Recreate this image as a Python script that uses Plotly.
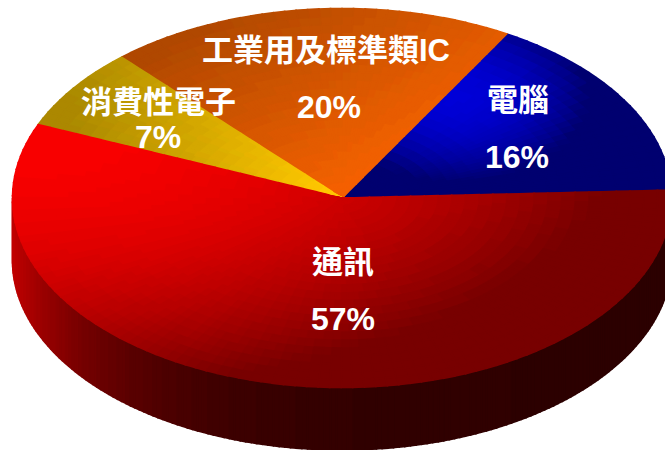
import math
import plotly.graph_objects as go

categories = ["電腦", "工業用及標準類IC", "消費性電子", "通訊"]
values = [16, 20, 7, 57]

CX, CY, A, B, DEPTH = 342, 198, 329.5, 189.5, 62.5
START = 2.4
LABEL_XY = [(518, 100, 517, 157), (326, 50, 329, 107), (158, 102, 158, 137), (343, 262, 343, 319)]
FONT = "Liberation Sans, Noto Sans CJK TC, sans-serif"


def clamp(v, lo=0.0, hi=1.0):
    return max(lo, min(hi, v))


def blue(x, y):
    d2 = ((x - 455) / 130) ** 2 + ((y - 95) / 85) ** 2
    return (0, 0, 112 + 103 * clamp(1 - d2))


def orange(x, y):
    t = clamp((x - 170) / 280 * 0.65 + (y - 40) / 150 * 0.6)
    return (175 + 70 * t, 72 + 26 * t, 0)


def yellow(x, y):
    t = clamp((x - 75) / 250)
    return (172 + 83 * t, 138 + 62 * t, 0)


def red(x, y):
    d2 = ((x - 40) / 580) ** 2 + ((y - 130) / 260) ** 2
    return (120 + 130 * clamp(1 - d2), 0, 0)


SHADERS = [blue, orange, yellow, red]


def rim(deg, k=1.0, dy=0.0):
    t = math.radians(deg)
    return CX + A * k * math.cos(t), CY - B * k * math.sin(t) + dy


def key(c, step=4):
    return "rgb(%d,%d,%d)" % tuple(min(255, int(round(v / step) * step)) for v in c)


def add(groups, poly, c):
    g = groups.setdefault(key(c), ([], []))
    for px, py in poly + [poly[0]]:
        g[0].append(px)
        g[1].append(py)
    g[0].append(None)
    g[1].append(None)


fig = go.Figure()
side_groups = {}
top_groups = {}

# side wall of the front-facing slice
lo = START + sum(values[:3]) * 3.6
hi = START + 360
deg = max(lo, 180)
while deg < min(hi, 360):
    nxt = min(deg + 1.0, hi, 360)
    p1, p2 = rim(deg), rim(nxt)
    xm = (p1[0] + p2[0]) / 2
    c = (45 + 150 * math.exp(-(xm - 12) / 100), 0, 0)
    add(side_groups, [p1, p2, rim(nxt, dy=DEPTH), rim(deg, dy=DEPTH)], c)
    deg = nxt

# top face
acc = START
N_R = 24
for val, shade in zip(values, SHADERS):
    span = val * 3.6
    n = max(2, int(span / 2))
    for i in range(n):
        a0 = acc + span * i / n
        a1 = acc + span * (i + 1) / n
        for j in range(N_R):
            k0, k1 = j / N_R, (j + 1) / N_R
            poly = [rim(a0, k0), rim(a1, k0), rim(a1, k1), rim(a0, k1)]
            mx = sum(p[0] for p in poly) / 4
            my = sum(p[1] for p in poly) / 4
            add(top_groups, poly, shade(mx, my))
    acc += span

for groups in (side_groups, top_groups):
    for color, (xs, ys) in groups.items():
        fig.add_trace(go.Scatter(x=xs, y=ys, mode="lines", fill="toself", fillcolor=color,
                                 line=dict(color=color, width=1.6), hoverinfo="skip", showlegend=False))

for name, val, (nx, ny, px, py) in zip(categories, values, LABEL_XY):
    fig.add_annotation(x=nx, y=ny, text=name, showarrow=False,
                       font=dict(family=FONT, size=31, color="white", weight="bold"))
    fig.add_annotation(x=px, y=py, text=f"{val}%", showarrow=False,
                       font=dict(family=FONT, size=32, color="white", weight="bold"))

fig.update_layout(width=665, height=450, margin=dict(l=0, r=0, t=0, b=0),
                  paper_bgcolor="white", plot_bgcolor="white", showlegend=False,
                  xaxis=dict(range=[0, 665], visible=False, fixedrange=True),
                  yaxis=dict(range=[450, 0], visible=False, fixedrange=True))

fig.write_html("out.html", config={"displayModeBar": False},
               post_script="document.body.style.margin='0';document.body.style.overflow='hidden';")
